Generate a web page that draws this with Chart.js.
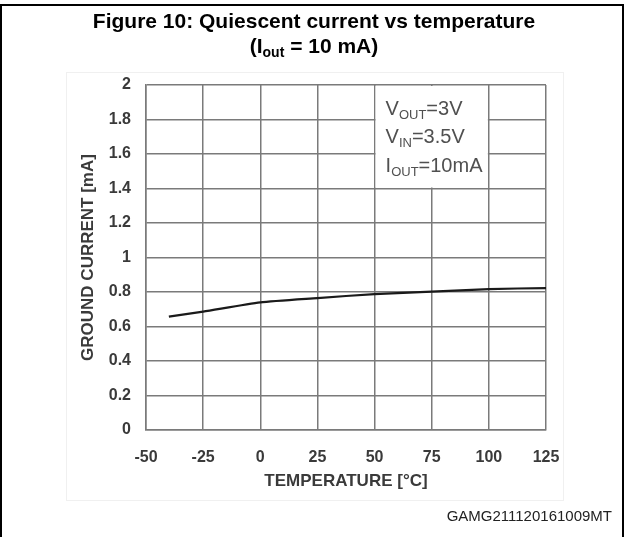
<!DOCTYPE html>
<html>
<head>
<meta charset="utf-8">
<script src="https://cdn.jsdelivr.net/npm/chart.js@4.4.1/dist/chart.umd.min.js"></script>
<style>
  body { margin: 0; background: #fff; }
  canvas { display: block; }
</style>
</head>
<body>
<canvas id="grafik" width="629" height="537"></canvas>
<script>
// ================= DATA =================
const suhu = [-40, -25, 0, 25, 50, 75, 100, 125];
const arusGround = [0.657, 0.686, 0.740, 0.765, 0.788, 0.802, 0.817, 0.823];
const xTicks = [-50, -25, 0, 25, 50, 75, 100, 125];
const yTicks = [0, 0.2, 0.4, 0.6, 0.8, 1, 1.2, 1.4, 1.6, 1.8, 2];
const kondisi = [
  [["V", false], ["OUT", true], ["=3V", false]],
  [["V", false], ["IN", true], ["=3.5V", false]],
  [["I", false], ["OUT", true], ["=10mA", false]],
];

const FONT = "'Liberation Sans', Arial, sans-serif";
const gridColor = "#7a7a7a";
const tickColor = "#3a3a3a";

// ================= TEKS DENGAN SUBSCRIPT =================
function drawRich(ctx, parts, x, y, size, weight, color, align) {
  const subSize = Math.round(size * 0.66);
  let total = 0;
  parts.forEach(([t, sub]) => {
    ctx.font = `${weight} ${sub ? subSize : size}px ${FONT}`;
    total += ctx.measureText(t).width;
  });
  let cx = align === "center" ? x - total / 2 : x;
  ctx.fillStyle = color;
  ctx.textAlign = "left";
  ctx.textBaseline = "alphabetic";
  parts.forEach(([t, sub]) => {
    ctx.font = `${weight} ${sub ? subSize : size}px ${FONT}`;
    ctx.fillText(t, cx, sub ? y + size * 0.2 : y);
    cx += ctx.measureText(t).width;
  });
}

// ================= PLUGIN DEKORASI =================
const dekorasi = {
  id: "dekorasi",
  beforeDraw(chart) {
    const ctx = chart.ctx;
    ctx.save();
    // bingkai luar
    ctx.strokeStyle = "#000";
    ctx.lineWidth = 2;
    ctx.beginPath();
    ctx.moveTo(1, 540);
    ctx.lineTo(1, 5);
    ctx.lineTo(623, 5);
    ctx.lineTo(623, 540);
    ctx.stroke();
    // batas gambar samar
    ctx.strokeStyle = "#f0f0f0";
    ctx.lineWidth = 1;
    ctx.strokeRect(66.5, 72.5, 497, 428);
    // judul
    ctx.fillStyle = "#000";
    ctx.textAlign = "center";
    ctx.textBaseline = "alphabetic";
    ctx.font = `bold 21px ${FONT}`;
    ctx.fillText("Figure 10: Quiescent current vs temperature", 314, 28);
    drawRich(ctx, [["(I", false], ["out", true], [" = 10 mA)", false]], 314, 53, 21, "bold", "#000", "center");
    // kode gambar
    ctx.font = `15px ${FONT}`;
    ctx.textAlign = "right";
    ctx.fillStyle = "#222";
    ctx.fillText("GAMG211120161009MT", 612, 521);
    ctx.restore();
  },
  afterDatasetsDraw(chart) {
    const ctx = chart.ctx;
    const xs = chart.scales.x;
    const ys = chart.scales.y;
    const x0 = xs.getPixelForValue(50);
    const x1 = xs.getPixelForValue(100);
    const y0 = ys.getPixelForValue(2);
    const y1 = ys.getPixelForValue(1.4);
    ctx.save();
    ctx.fillStyle = "#fff";
    ctx.fillRect(x0 + 1, y0 + 1, x1 - x0 - 2, y1 - y0 - 2);
    const baris = [ys.getPixelForValue(1.826), ys.getPixelForValue(1.664), ys.getPixelForValue(1.496)];
    kondisi.forEach((parts, i) => {
      drawRich(ctx, parts, x0 + 11, baris[i], 20, "normal", "#505050", "left");
    });
    ctx.restore();
  },
};

// ================= GRAFIK =================
new Chart(document.getElementById("grafik"), {
  type: "line",
  data: {
    datasets: [
      {
        data: suhu.map((t, i) => ({ x: t, y: arusGround[i] })),
        borderColor: "#1a1a1a",
        borderWidth: 2.2,
        pointRadius: 0,
        tension: 0.2,
        fill: false,
      },
    ],
  },
  options: {
    responsive: false,
    animation: false,
    layout: { padding: { left: 60, top: 85, right: 83, bottom: 43 } },
    plugins: { legend: { display: false }, tooltip: { enabled: false } },
    scales: {
      x: {
        type: "linear",
        min: -50,
        max: 125,
        afterFit: (s) => { s.height = 64; },
        afterBuildTicks: (s) => { s.ticks = xTicks.map((v) => ({ value: v })); },
        grid: { color: gridColor, lineWidth: 1.5, drawTicks: false },
        border: { color: gridColor, width: 1.5 },
        ticks: {
          color: tickColor,
          padding: 18,
          font: { family: FONT, size: 16, weight: "bold" },
          callback: (v) => String(v),
        },
        title: {
          display: true,
          text: "TEMPERATURE [°C]",
          color: tickColor,
          font: { family: FONT, size: 17, weight: "bold" },
          padding: { top: 0, bottom: 2 },
        },
      },
      y: {
        min: 0,
        max: 2,
        afterFit: (s) => { s.width = 86; },
        afterBuildTicks: (s) => { s.ticks = yTicks.map((v) => ({ value: v })); },
        grid: { color: gridColor, lineWidth: 1.5, drawTicks: false },
        border: { color: gridColor, width: 1.5 },
        ticks: {
          color: tickColor,
          padding: 15,
          font: { family: FONT, size: 16, weight: "bold" },
          callback: (v) => String(v),
        },
        title: {
          display: true,
          text: "GROUND CURRENT [mA]",
          color: tickColor,
          font: { family: FONT, size: 17, weight: "bold" },
          padding: { top: 18, bottom: 0 },
        },
      },
    },
  },
  plugins: [dekorasi],
});
</script>
</body>
</html>
